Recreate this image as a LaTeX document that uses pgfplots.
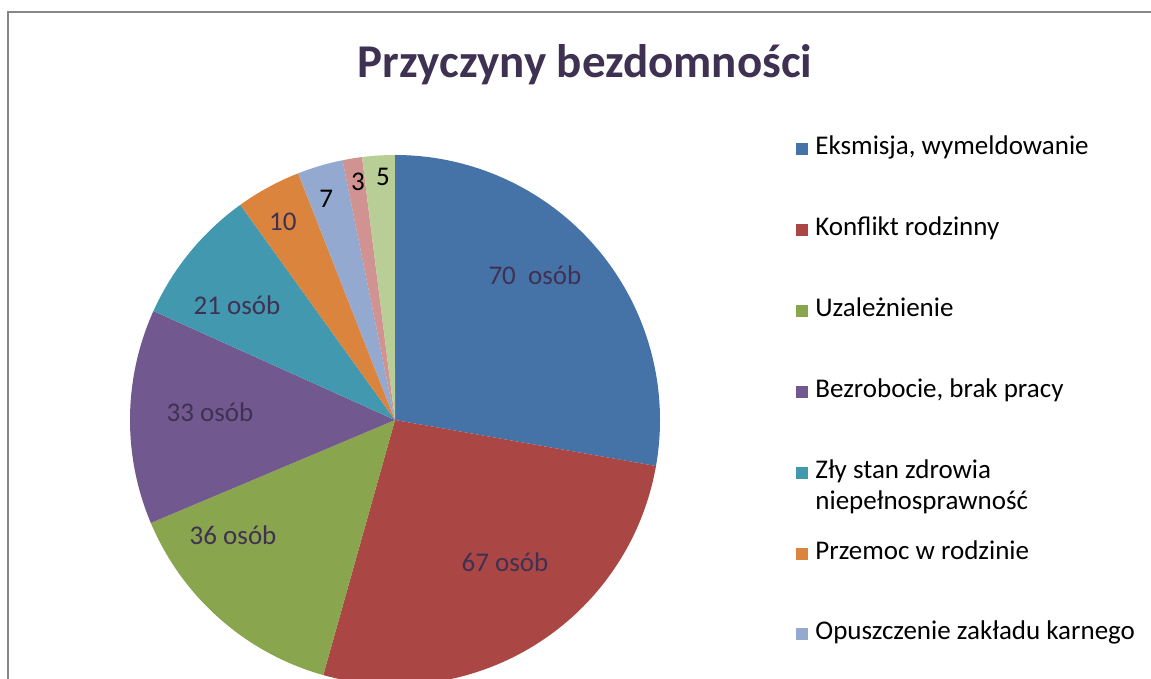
\documentclass[border=0pt]{standalone}
\usepackage{pgfplots}
\usepackage{pgfplotstable}
\pgfplotsset{compat=1.18}
\usepackage{fontspec}
\setmainfont{Carlito}

% kolory jak w Excelu 2007
\definecolor{c0}{HTML}{4572A7}
\definecolor{c1}{HTML}{AA4643}
\definecolor{c2}{HTML}{89A54E}
\definecolor{c3}{HTML}{71588F}
\definecolor{c4}{HTML}{4198AF}
\definecolor{c5}{HTML}{DB843D}
\definecolor{c6}{HTML}{93A9CF}
\definecolor{c7}{HTML}{D19392}
\definecolor{c8}{HTML}{B9CD96}
\definecolor{lab}{HTML}{403152}
\definecolor{tytul}{HTML}{3F3151}
\definecolor{ramka}{HTML}{878787}

% wartosci, polozenie etykiet (w promieniach), tekst etykiety, kolor tekstu
\pgfplotstableread[col sep=semicolon]{
value;lx;ly;label;tc
70;0.528;0.547;70~~osób;lab
67;0.415;-0.536;67 osób;lab
36;-0.611;-0.434;36 osób;lab
33;-0.698;0.030;33 osób;lab
21;-0.596;0.434;21 osób;lab
10;-0.423;0.747;10;lab
7;-0.260;0.834;7;black
3;-0.140;0.898;3;black
5;-0.045;0.917;5;black
}\piedata

% sumy i katy wycinkow (zgodnie z ruchem wskazowek, od godz. 12)
\pgfplotstablegetrowsof{\piedata}
\pgfmathtruncatemacro\nlast{\pgfplotsretval-1}
\xdef\total{0}
\foreach \i in {0,...,\nlast}{
  \pgfplotstablegetelem{\i}{value}\of\piedata
  \pgfmathsetmacro\t{\total+\pgfplotsretval}\xdef\total{\t}
}
\xdef\cum{0}
\foreach \i in {0,...,\nlast}{
  \pgfplotstablegetelem{\i}{value}\of\piedata
  \pgfmathsetmacro\s{90-360*(\cum/\total)}
  \pgfmathsetmacro\e{\s-360*(\pgfplotsretval/\total)}
  \expandafter\xdef\csname ps\i\endcsname{\s}
  \expandafter\xdef\csname pe\i\endcsname{\e}
  \pgfmathsetmacro\cc{\cum+\pgfplotsretval}\xdef\cum{\cc}
  \pgfplotstablegetelem{\i}{lx}\of\piedata
  \expandafter\xdef\csname plx\i\endcsname{\pgfplotsretval}
  \pgfplotstablegetelem{\i}{ly}\of\piedata
  \expandafter\xdef\csname ply\i\endcsname{\pgfplotsretval}
  \pgfplotstablegetelem{\i}{label}\of\piedata
  \global\expandafter\let\csname plt\i\endcsname\pgfplotsretval
  \pgfplotstablegetelem{\i}{tc}\of\piedata
  \expandafter\xdef\csname plc\i\endcsname{\pgfplotsretval}
}
\newcommand\pieS[1]{\csname ps#1\endcsname}
\newcommand\pieE[1]{\csname pe#1\endcsname}

\begin{document}
\begin{tikzpicture}
\useasboundingbox (0,0) rectangle (575.5pt,339.5pt);
\clip (0,0) rectangle (575.5pt,339.5pt);

\begin{axis}[
  at={(197.5pt,129.5pt)}, anchor=origin,
  x=132.5pt, y=132.5pt,
  xmin=-1, xmax=1, ymin=-1, ymax=1,
  hide axis, clip=false,
]
\pgfplotsinvokeforeach{0,...,8}{
  \fill[c#1] (axis cs:0,0) -- (axis cs:{cos(\pieS{#1})},{sin(\pieS{#1})})
    arc[start angle=\pieS{#1}, end angle=\pieE{#1}, radius=132.5pt] -- cycle;
}
\pgfplotsinvokeforeach{0,...,8}{
  \node[text=\csname plc#1\endcsname, font=\fontsize{13.5}{16}\selectfont]
    at (axis cs:\csname plx#1\endcsname,\csname ply#1\endcsname) {\csname plt#1\endcsname};
}
\end{axis}

% tytul, legenda i ramka w pikselach obrazka
\begin{scope}[x=0.5pt, y=-0.5pt, yshift=339.5pt]
  \draw[ramka, line width=1pt] (1160,12.5) -- (8,12.5) -- (8,690);
  \node[anchor=base, text=tytul, font=\fontsize{23.5}{28}\selectfont\bfseries]
    at (585,78) {Przyczyny bezdomności};
  \foreach \b/\cl/\t in {155/c0/{Eksmisja, wymeldowanie},
                        236/c1/{Konflikt rodzinny},
                        317/c2/{Uzależnienie},
                        398/c3/{Bezrobocie, brak pracy},
                        479/c4/{Zły stan zdrowia},
                        560/c5/{Przemoc w rodzinie},
                        640/c6/{Opuszczenie zakładu karnego}}{
    \fill[\cl] (796,\b-12) rectangle (808,\b+0.5);
    \node[anchor=base west, inner sep=0pt, font=\fontsize{13.5}{16}\selectfont]
      at (815,\b) {\t};
  }
  \node[anchor=base west, inner sep=0pt, font=\fontsize{13.5}{16}\selectfont]
    at (815,510) {niepełnosprawność};
\end{scope}
\end{tikzpicture}
\end{document}
